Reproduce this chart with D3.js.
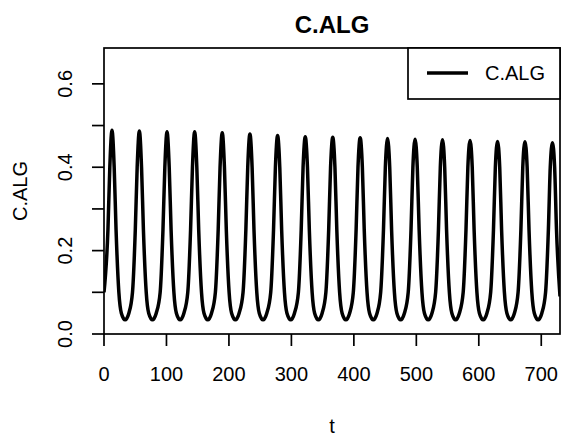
<!DOCTYPE html>
<html>
<head>
<meta charset="utf-8">
<script src="https://cdn.jsdelivr.net/npm/d3@7"></script>
<style>
  body { margin: 0; background: #fff; }
  text { font-family: "Liberation Sans", Arial, sans-serif; fill: #000; }
</style>
</head>
<body>
<svg class="chart"></svg>
<script>
const margin = {top: 48, bottom: 102, right: 3, left: 104};
var width = 563 - margin.left - margin.right;
var height = 436 - margin.top - margin.bottom;

/** data **/
var tVals = [
  0, 6.3, 9.3, 12.8, 16.3, 19.3, 23.8, 27.8, 33.8, 39.8,
  45.6, 50.1, 53.1, 56.6, 60.1, 63.1, 67.6, 71.6, 77.6, 83.6,
  89.9, 94.4, 97.4, 100.9, 104.4, 107.4, 111.9, 115.9, 121.9, 127.9,
  134.1, 138.6, 141.6, 145.1, 148.6, 151.6, 156.1, 160.1, 166.1, 172.1,
  178.3, 182.8, 185.8, 189.3, 192.8, 195.8, 200.3, 204.3, 210.3, 216.3,
  222.6, 227.1, 230.1, 233.6, 237.1, 240.1, 244.6, 248.6, 254.6, 260.6,
  266.9, 271.4, 274.4, 277.9, 281.4, 284.4, 288.9, 292.9, 298.9, 304.9,
  311.2, 315.7, 318.7, 322.2, 325.7, 328.7, 333.2, 337.2, 343.2, 349.2,
  355.2, 359.7, 362.7, 366.2, 369.7, 372.7, 377.2, 381.2, 387.2, 393.2,
  399.1, 403.6, 406.6, 410.1, 413.6, 416.6, 421.1, 425.1, 431.1, 437.1,
  442.9, 447.4, 450.4, 453.9, 457.4, 460.4, 464.9, 468.9, 474.9, 480.9,
  487.0, 491.5, 494.5, 498.0, 501.5, 504.5, 509.0, 513.0, 519.0, 525.0,
  530.9, 535.4, 538.4, 541.9, 545.4, 548.4, 552.9, 556.9, 562.9, 568.9,
  575.0, 579.5, 582.5, 586.0, 589.5, 592.5, 597.0, 601.0, 607.0, 613.0,
  619.0, 623.5, 626.5, 630.0, 633.5, 636.5, 641.0, 645.0, 651.0, 657.0,
  662.9, 667.4, 670.4, 673.9, 677.4, 680.4, 684.9, 688.9, 694.9, 700.9,
  706.9, 711.4, 714.4, 717.9, 721.4, 724.4, 730
];
var cAlg = [
  0.10, 0.25, 0.40, 0.489, 0.40, 0.25, 0.10, 0.05, 0.034, 0.05,
  0.10, 0.25, 0.40, 0.487, 0.40, 0.25, 0.10, 0.05, 0.034, 0.05,
  0.10, 0.25, 0.40, 0.485, 0.40, 0.25, 0.10, 0.05, 0.034, 0.05,
  0.10, 0.25, 0.40, 0.485, 0.40, 0.25, 0.10, 0.05, 0.034, 0.05,
  0.10, 0.25, 0.40, 0.483, 0.40, 0.25, 0.10, 0.05, 0.034, 0.05,
  0.10, 0.25, 0.40, 0.480, 0.40, 0.25, 0.10, 0.05, 0.034, 0.05,
  0.10, 0.25, 0.40, 0.476, 0.40, 0.25, 0.10, 0.05, 0.034, 0.05,
  0.10, 0.25, 0.40, 0.473, 0.40, 0.25, 0.10, 0.05, 0.034, 0.05,
  0.10, 0.25, 0.40, 0.472, 0.40, 0.25, 0.10, 0.05, 0.034, 0.05,
  0.10, 0.25, 0.40, 0.471, 0.40, 0.25, 0.10, 0.05, 0.034, 0.05,
  0.10, 0.25, 0.40, 0.469, 0.40, 0.25, 0.10, 0.05, 0.034, 0.05,
  0.10, 0.25, 0.40, 0.467, 0.40, 0.25, 0.10, 0.05, 0.034, 0.05,
  0.10, 0.25, 0.40, 0.466, 0.40, 0.25, 0.10, 0.05, 0.034, 0.05,
  0.10, 0.25, 0.40, 0.464, 0.40, 0.25, 0.10, 0.05, 0.034, 0.05,
  0.10, 0.25, 0.40, 0.462, 0.40, 0.25, 0.10, 0.05, 0.034, 0.05,
  0.10, 0.25, 0.40, 0.461, 0.40, 0.25, 0.10, 0.05, 0.034, 0.05,
  0.10, 0.25, 0.40, 0.459, 0.40, 0.25, 0.09
];

var xTicks = [0, 100, 200, 300, 400, 500, 600, 700];
var yTicks = [0, 0.1, 0.2, 0.3, 0.4, 0.5, 0.6];
var yLabels = [0, 0.2, 0.4, 0.6];

var data = tVals.map((t, i) => ({t: t, c: cAlg[i]}));

const svg = d3.select('.chart')
  .attr('width', width + margin.left + margin.right)
  .attr('height', height + margin.top + margin.bottom);

const chart = svg.append('g')
  .attr('transform', 'translate(' + margin.left + ',' + margin.top + ')');

var x = d3.scaleLinear().domain([0, 730]).range([0, width]);
var y = d3.scaleLinear().domain([0, 0.686]).range([height, 0]);

// series
var line = d3.line()
  .x((d) => x(d.t))
  .y((d) => y(d.c))
  .curve(d3.curveMonotoneX);

chart.append('clipPath').attr('id', 'clip')
  .append('rect').attr('width', width).attr('height', height);

chart.append('path')
  .datum(data)
  .attr('clip-path', 'url(#clip)')
  .attr('fill', 'none')
  .attr('stroke', '#000')
  .attr('stroke-width', 3.5)
  .attr('stroke-linejoin', 'round')
  .attr('d', line);

// box
chart.append('rect')
  .attr('width', width).attr('height', height)
  .attr('fill', 'none').attr('stroke', '#000').attr('stroke-width', 1.7);

// x axis
chart.selectAll('.xt')
  .data(xTicks).enter()
  .append('line')
    .attr('x1', (d) => x(d)).attr('x2', (d) => x(d))
    .attr('y1', height).attr('y2', height + 12)
    .attr('stroke', '#000').attr('stroke-width', 1.7);

chart.selectAll('.xl')
  .data(xTicks).enter()
  .append('text')
    .attr('x', (d) => x(d)).attr('y', height + 47)
    .attr('text-anchor', 'middle')
    .style('font-size', '20px')
    .text((d) => d);

// y axis
chart.selectAll('.yt')
  .data(yTicks).enter()
  .append('line')
    .attr('x1', -12).attr('x2', 0)
    .attr('y1', (d) => y(d)).attr('y2', (d) => y(d))
    .attr('stroke', '#000').attr('stroke-width', 1.7);

chart.selectAll('.yl')
  .data(yLabels).enter()
  .append('text')
    .attr('transform', (d) => 'translate(' + (-32) + ',' + y(d) + ') rotate(-90)')
    .attr('text-anchor', 'middle')
    .style('font-size', '20px')
    .text((d) => d.toFixed(1));

// titles
svg.append('text')
  .attr('x', margin.left + width / 2).attr('y', 33)
  .attr('text-anchor', 'middle')
  .style('font-size', '24px').style('font-weight', 'bold')
  .text('C.ALG');

svg.append('text')
  .attr('x', margin.left + width / 2).attr('y', 433)
  .attr('text-anchor', 'middle')
  .style('font-size', '20px')
  .text('t');

svg.append('text')
  .attr('transform', 'translate(27,' + (margin.top + height / 2) + ') rotate(-90)')
  .attr('text-anchor', 'middle')
  .style('font-size', '20px')
  .text('C.ALG');

// legend
const legend = chart.append('g')
  .attr('transform', 'translate(' + (width - 152) + ',0)');

legend.append('rect')
  .attr('width', 152).attr('height', 51)
  .attr('fill', '#fff').attr('stroke', '#000').attr('stroke-width', 1.7);

legend.append('line')
  .attr('x1', 19).attr('x2', 60)
  .attr('y1', 25).attr('y2', 25)
  .attr('stroke', '#000').attr('stroke-width', 3.5);

legend.append('text')
  .attr('x', 77).attr('y', 32)
  .style('font-size', '20px')
  .text('C.ALG');
</script>
</body>
</html>
